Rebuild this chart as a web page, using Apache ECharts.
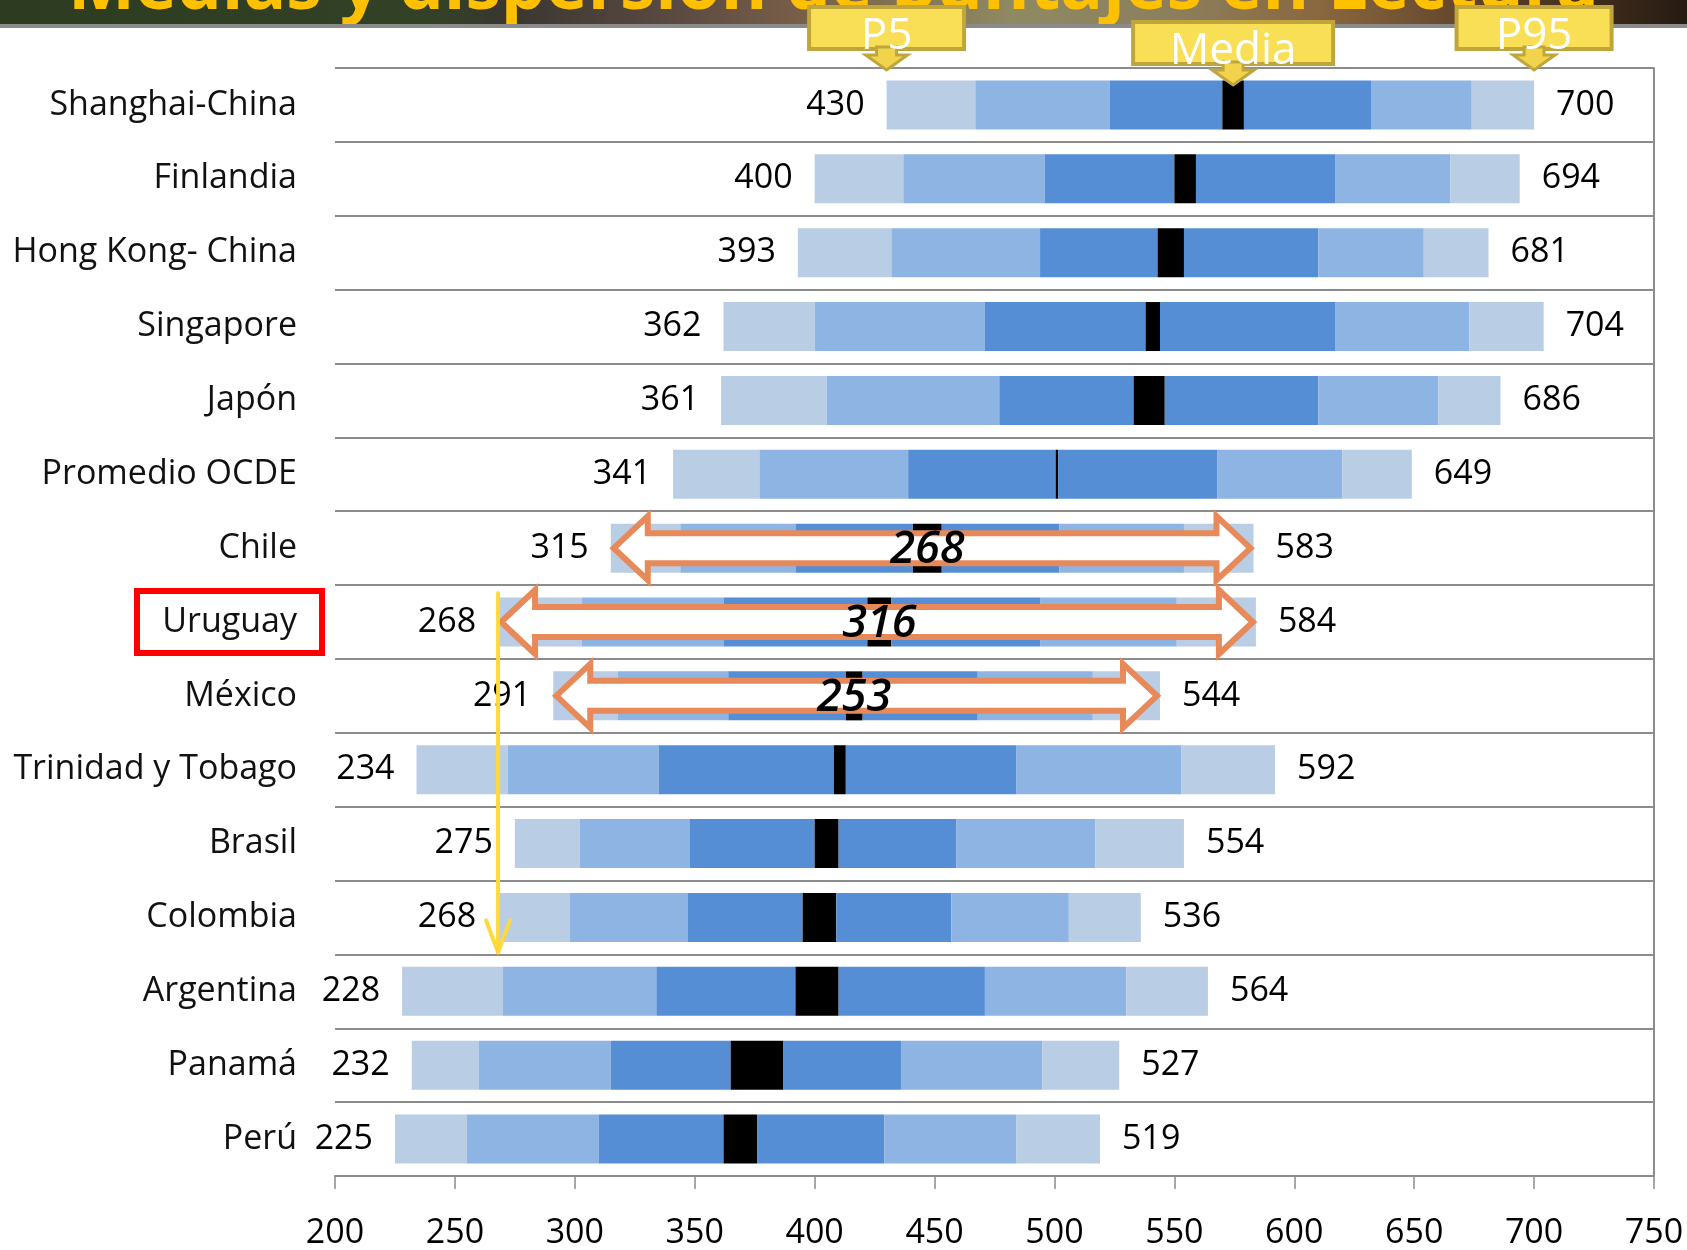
<!DOCTYPE html>
<html>
<head>
<meta charset="utf-8">
<script src="https://cdn.jsdelivr.net/npm/echarts@6/dist/echarts.min.js"></script>
<style>
  html, body { margin: 0; padding: 0; background: #ffffff; }
  #chart { width: 1687px; height: 1250px; }
</style>
</head>
<body>
<div id="chart"></div>
<script>
// Puntajes PISA por país: percentiles y banda de la media
const paises = ['Shanghai-China', 'Finlandia', 'Hong Kong- China', 'Singapore', 'Japón', 'Promedio OCDE',
  'Chile', 'Uruguay', 'México', 'Trinidad y Tobago', 'Brasil', 'Colombia', 'Argentina', 'Panamá', 'Perú'];
const p5       = [430, 400, 393, 362, 361, 341, 315, 268, 291, 234, 275, 268, 228, 232, 225];
const p10      = [467, 437, 432, 400, 405, 377, 344, 303, 318, 272, 302, 298, 270, 260, 255];
const p25      = [523, 496, 494, 471, 477, 439, 392, 362, 364, 335, 348, 347, 334, 315, 310];
const mediaInf = [570, 550, 543, 538, 533, 500.5, 441, 422, 413, 408, 400, 395, 392, 365, 362];
const mediaSup = [579, 559, 554, 544, 546, 501.5, 453, 432, 420, 413, 410, 409, 410, 387, 376];
const p75      = [632, 617, 610, 617, 610, 568, 502, 494, 468, 484, 459, 457, 471, 436, 429];
const p90      = [674, 665, 654, 673, 660, 620, 554, 551, 516, 553, 517, 506, 530, 495, 484];
const p95      = [700, 694, 681, 704, 686, 649, 583, 584, 544, 592, 554, 536, 564, 527, 519];

// Eje de puntajes
const ejeMin = 200, ejeMax = 750, ejePaso = 50;

// Filas con flecha de recorrido (P95 - P5)
const paisesRango = ['Chile', 'Uruguay', 'México'];
// Rótulos de las llamadas sobre la primera fila
const rotulosLlamada = ['P5', 'Media', 'P95'];
const titulo = 'Medias y dispersión de puntajes en Lectura';

const FUENTE = '"Open Sans", "Noto Sans", sans-serif';
const CLARO = '#B9CDE5', MEDIO = '#8EB4E3', OSCURO = '#558ED5';

const media = mediaInf.map((v, i) => (v + mediaSup[i]) / 2);
const tramos = [
  [p5, p10, CLARO], [p10, p25, MEDIO], [p25, mediaInf, OSCURO], [mediaInf, mediaSup, '#000000'],
  [mediaSup, p75, OSCURO], [p75, p90, MEDIO], [p90, p95, CLARO]
];

const etiqueta = { color: '#000', fontSize: 34, fontFamily: FUENTE };

const series = [{
  type: 'bar', stack: 'pisa', silent: true, barWidth: 49,
  itemStyle: { color: 'rgba(0,0,0,0)' },
  data: p5
}];
tramos.forEach(([lo, hi, color], k) => {
  const s = {
    type: 'bar', stack: 'pisa', barWidth: 49, silent: true,
    itemStyle: { color },
    data: hi.map((v, i) => +(v - lo[i]).toFixed(2))
  };
  if (k === 0) {
    s.label = Object.assign({ show: true, position: 'left', distance: 22,
      formatter: p => String(p5[p.dataIndex]) }, etiqueta);
  }
  if (k === tramos.length - 1) {
    s.label = Object.assign({ show: true, position: 'right', distance: 22,
      formatter: p => String(p95[p.dataIndex]) }, etiqueta);
  }
  series.push(s);
});

// Flechas dobles de recorrido
series.push({
  type: 'custom', z: 10, silent: true, clip: false,
  encode: { x: [0, 1, 2], y: 3 },
  data: paisesRango.map(n => {
    const i = paises.indexOf(n);
    return [p5[i], p95[i], media[i], i, p95[i] - p5[i]];
  }),
  renderItem(params, api) {
    const fila = api.value(3);
    const a = api.coord([api.value(0), fila]);
    const b = api.coord([api.value(1), fila]);
    const m = api.coord([api.value(2), fila]);
    const cy = a[1];
    const hh = 32, sh = 15, hl = 34;
    const x0 = a[0] + 3, x1 = b[0] - 3;
    const pts = [
      [x0, cy], [x0 + hl, cy - hh], [x0 + hl, cy - sh], [x1 - hl, cy - sh], [x1 - hl, cy - hh],
      [x1, cy], [x1 - hl, cy + hh], [x1 - hl, cy + sh], [x0 + hl, cy + sh], [x0 + hl, cy + hh]
    ];
    return {
      type: 'group', children: [
        { type: 'polygon', shape: { points: pts },
          style: { fill: '#ffffff', stroke: '#E8895A', lineWidth: 6, lineJoin: 'miter' } },
        { type: 'text', x: m[0], y: cy + 2,
          style: { text: String(api.value(4)), fill: '#000', align: 'center', verticalAlign: 'middle',
            font: 'italic 600 45px ' + FUENTE } }
      ]
    };
  }
});

// Línea amarilla desde el P5 de Uruguay hasta Argentina
series.push({
  type: 'custom', z: 12, silent: true, clip: false,
  encode: { x: 0, y: [1, 2] },
  data: [[p5[paises.indexOf('Uruguay')], paises.indexOf('Uruguay'), paises.indexOf('Argentina')]],
  renderItem(params, api) {
    const banda = api.size([0, 1])[1];
    const ini = api.coord([api.value(0), api.value(1)]);
    const fin = api.coord([api.value(0), api.value(2)]);
    const x = ini[0];
    const y0 = ini[1] - banda * 0.39;
    const y1 = fin[1] - banda / 2 - 2;
    const st = { stroke: '#FFD93A', lineWidth: 4, fill: null, lineCap: 'round', lineJoin: 'round' };
    return {
      type: 'group', children: [
        { type: 'line', shape: { x1: x, y1: y0, x2: x, y2: y1 }, style: st },
        { type: 'polyline', shape: { points: [[x - 12, y1 - 32], [x, y1], [x + 12, y1 - 32]] }, style: st }
      ]
    };
  }
});

// Recuadro rojo en la etiqueta de Uruguay
series.push({
  type: 'custom', z: 12, silent: true, clip: false,
  encode: { x: 0, y: 1 },
  data: [[ejeMin, paises.indexOf('Uruguay')]],
  renderItem(params, api) {
    const c = api.coord([api.value(0), api.value(1)]);
    const g = params.coordSys;
    return {
      type: 'rect',
      shape: { x: g.x - 198, y: c[1] - 31, width: 185, height: 62 },
      style: { fill: null, stroke: '#FF0000', lineWidth: 6 }
    };
  }
});

// Llamadas P5 / Media / P95 sobre la primera fila
series.push({
  type: 'custom', z: 30, silent: true, clip: false,
  encode: { x: 0, y: 1 },
  data: [[p5[0], 0, 0], [media[0], 0, 1], [p95[0], 0, 2]],
  renderItem(params, api) {
    const k = api.value(2);
    const txt = rotulosLlamada[k];
    const g = params.coordSys;
    const c = api.coord([api.value(0), api.value(1)]);
    const x = c[0];
    const punta = k === 1 ? g.y + 17 : g.y + 2;
    const ancho = k === 1 ? 200 : 155;
    const base = punta - 21;
    const caja = { x: x - ancho / 2, y: base - 42, width: ancho, height: 42 };
    const flecha = [
      [x - 10, base - 2], [x + 10, base - 2], [x + 10, punta - 15], [x + 21, punta - 15],
      [x, punta], [x - 21, punta - 15], [x - 10, punta - 15]
    ];
    return {
      type: 'group', children: [
        { type: 'rect', shape: caja, style: { fill: '#F9DF55', stroke: '#BFA53B', lineWidth: 4 } },
        { type: 'polygon', shape: { points: flecha }, style: { fill: '#F2D44C', stroke: '#BFA53B', lineWidth: 3 } },
        { type: 'text', x: x, y: base - 13,
          style: { text: txt, fill: '#ffffff', align: 'center', verticalAlign: 'middle',
            font: '44px ' + FUENTE } }
      ]
    };
  }
});

const chart = echarts.init(document.getElementById('chart'), null, { renderer: 'canvas' });
chart.setOption({
  animation: false,
  backgroundColor: '#ffffff',
  grid: { left: 335, right: 33, top: 68, bottom: 72, containLabel: false },
  xAxis: {
    type: 'value', min: ejeMin, max: ejeMax, interval: ejePaso,
    axisLine: { show: true, lineStyle: { color: '#8C8C8C', width: 2 } },
    axisTick: { show: true, length: 13, lineStyle: { color: '#8C8C8C', width: 1.5 } },
    splitLine: { show: false },
    axisLabel: { color: '#000', fontSize: 34, fontFamily: FUENTE, margin: 40 }
  },
  yAxis: [{
    type: 'category', data: paises, inverse: true,
    axisLine: { show: false }, axisTick: { show: false },
    splitLine: { show: true, interval: 0, lineStyle: { color: '#8C8C8C', width: 2 } },
    axisLabel: { color: '#111', fontSize: 34, fontFamily: FUENTE, margin: 38, interval: 0 }
  }, {
    type: 'category', data: paises, inverse: true, position: 'right',
    axisLine: { show: true, lineStyle: { color: '#8C8C8C', width: 2 } },
    axisTick: { show: false }, axisLabel: { show: false }, splitLine: { show: false }
  }],
  graphic: [
    { type: 'rect', z: 0, shape: { x: 0, y: 0, width: 1687, height: 24 },
      style: { fill: { type: 'linear', x: 0, y: 0, x2: 1, y2: 0, colorStops: [
        { offset: 0, color: '#2D3B21' }, { offset: 0.26, color: '#334126' },
        { offset: 0.30, color: '#3A3630' }, { offset: 0.40, color: '#5B4A42' },
        { offset: 0.48, color: '#7A6048' }, { offset: 0.60, color: '#8F8A62' },
        { offset: 0.70, color: '#8C7E5C' }, { offset: 0.78, color: '#8A6840' },
        { offset: 0.88, color: '#5E4128' }, { offset: 1, color: '#261B12' } ] } } },
    { type: 'text', z: 1, x: 68, y: -11,
      style: { text: titulo, fill: '#FFC000', font: 'bold 71px ' + FUENTE,
        verticalAlign: 'middle', textShadowColor: '#A5A5A5', textShadowOffsetX: 3, textShadowOffsetY: 3 } },
    { type: 'rect', z: 2, shape: { x: 0, y: 24, width: 1687, height: 4 }, style: { fill: '#8A8A8A' } }
  ],
  series
});
</script>
</body>
</html>
